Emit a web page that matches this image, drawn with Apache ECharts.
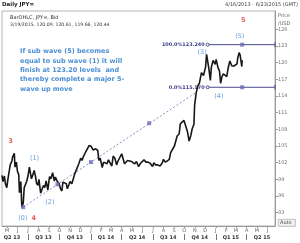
<!DOCTYPE html>
<html>
<head>
<meta charset="utf-8">
<script src="https://cdn.jsdelivr.net/npm/echarts@6/dist/echarts.min.js"></script>
<style>
  html, body { margin: 0; padding: 0; background: #fff; }
  #chart { width: 300px; height: 243px; }
</style>
</head>
<body>
<div id="chart"></div>
<script>
// daily JPY= closes (one point every few days)
var priceDates = [
  '2013-04-16','2013-04-19','2013-04-23','2013-04-26','2013-04-30','2013-05-03','2013-05-08','2013-05-10',
  '2013-05-15','2013-05-17','2013-05-22','2013-05-24','2013-05-28','2013-05-31','2013-06-04','2013-06-06',
  '2013-06-10','2013-06-13','2013-06-17','2013-06-20','2013-06-24','2013-06-27','2013-07-01','2013-07-05',
  '2013-07-08','2013-07-11','2013-07-15','2013-07-19','2013-07-23','2013-07-26','2013-07-30','2013-08-02',
  '2013-08-07','2013-08-12','2013-08-15','2013-08-19','2013-08-23','2013-08-28','2013-09-02','2013-09-06',
  '2013-09-11','2013-09-16','2013-09-19','2013-09-24','2013-09-30','2013-10-04','2013-10-08','2013-10-11',
  '2013-10-16','2013-10-21','2013-10-24','2013-10-29','2013-11-01','2013-11-06','2013-11-11','2013-11-14',
  '2013-11-19','2013-11-22','2013-11-27','2013-12-02','2013-12-06','2013-12-10','2013-12-13','2013-12-18',
  '2013-12-23','2013-12-27','2013-12-31','2014-01-02','2014-01-07','2014-01-10','2014-01-15','2014-01-21',
  '2014-01-24','2014-01-28','2014-02-03','2014-02-07','2014-02-12','2014-02-17','2014-02-21','2014-02-26',
  '2014-03-03','2014-03-07','2014-03-12','2014-03-17','2014-03-21','2014-03-26','2014-04-01','2014-04-04',
  '2014-04-09','2014-04-14','2014-04-18','2014-04-24','2014-04-30','2014-05-05','2014-05-09','2014-05-14',
  '2014-05-20','2014-05-26','2014-05-30','2014-06-05','2014-06-11','2014-06-17','2014-06-23','2014-06-30',
  '2014-07-04','2014-07-09','2014-07-15','2014-07-22','2014-07-28','2014-08-01','2014-08-06','2014-08-12',
  '2014-08-18','2014-08-22','2014-08-27','2014-09-02','2014-09-05','2014-09-10','2014-09-16','2014-09-19',
  '2014-09-24','2014-09-30','2014-10-03','2014-10-07','2014-10-10','2014-10-15','2014-10-20','2014-10-24',
  '2014-10-29','2014-10-31','2014-11-05','2014-11-10','2014-11-14','2014-11-20','2014-11-26','2014-12-02',
  '2014-12-05','2014-12-08','2014-12-12','2014-12-16','2014-12-19','2014-12-24','2014-12-30','2015-01-02',
  '2015-01-07','2015-01-12','2015-01-15','2015-01-19','2015-01-23','2015-01-28','2015-02-02','2015-02-06',
  '2015-02-11','2015-02-17','2015-02-23','2015-02-27','2015-03-04','2015-03-06','2015-03-10','2015-03-13',
  '2015-03-16','2015-03-18','2015-03-19'
];
var priceValues = [
  99.7, 98.6, 99.6, 98.2, 97.5, 98.9, 99.1, 101.6,
  102.3, 103.0, 103.7, 101.2, 102.1, 100.5, 99.8, 96.6,
  98.6, 94.0, 94.7, 97.5, 97.8, 98.6, 99.6, 101.2,
  101.4, 99.1, 99.8, 100.6, 99.5, 98.3, 97.9, 99.0,
  96.5, 96.8, 97.9, 97.5, 98.7, 97.1, 99.5, 99.1,
  100.2, 98.7, 99.4, 98.7, 98.2, 97.3, 96.9, 98.5,
  98.3, 98.2, 97.3, 98.1, 98.6, 98.2, 99.2, 99.9,
  99.9, 101.1, 101.9, 102.8, 102.4, 103.1, 103.2, 104.1,
  104.1, 105.1, 105.3, 104.9, 104.3, 104.2, 104.5, 104.2,
  102.4, 102.8, 101.1, 102.1, 102.4, 101.8, 102.5, 102.2,
  101.4, 103.2, 102.8, 101.6, 102.3, 102.2, 103.6, 103.3,
  101.8, 101.8, 102.4, 102.3, 102.2, 102.1, 101.8, 102.2,
  101.3, 101.9, 101.8, 102.5, 102.1, 102.1, 101.9, 101.3,
  102.0, 101.6, 101.6, 101.4, 101.9, 102.6, 102.1, 102.3,
  102.6, 103.8, 103.9, 105.0, 105.1, 106.8, 107.2, 109.0,
  108.8, 109.6, 109.8, 108.2, 107.6, 105.9, 106.9, 108.1,
  108.9, 112.3, 114.7, 115.9, 116.3, 118.2, 117.7, 119.2,
  121.5, 121.6, 118.8, 116.8, 119.2, 120.4, 119.7, 120.6,
  119.2, 118.4, 116.3, 117.5, 118.0, 117.7, 117.5, 119.0,
  120.3, 119.4, 119.4, 119.5, 119.8, 120.8, 121.8, 121.4,
  121.3, 119.3, 120.44
];

var rangeStart = '2013-04-16';
var rangeEnd = '2015-06-23';

var monthTicks = [
  '2013-05-01','2013-06-01','2013-07-01','2013-08-01','2013-09-01','2013-10-01','2013-11-01','2013-12-01',
  '2014-01-01','2014-02-01','2014-03-01','2014-04-01','2014-05-01','2014-06-01','2014-07-01','2014-08-01',
  '2014-09-01','2014-10-01','2014-11-01','2014-12-01','2015-01-01','2015-02-01','2015-03-01','2015-04-01',
  '2015-05-01','2015-06-01'
];
var monthLabels = ['M','J','J','A','S','O','N','D','J','F','M','A','M','J','J','A','S','O','N','D','J','F','M','A','M','J'];
var quarterStarts = ['2013-07-01','2013-10-01','2014-01-01','2014-04-01','2014-07-01','2014-10-01','2015-01-01','2015-04-01'];
var quarterMids = ['2013-05-15','2013-08-15','2013-11-15','2014-02-14','2014-05-16','2014-08-15','2014-11-15','2015-02-14','2015-05-16'];
var quarterLabels = ['Q2 13','Q3 13','Q4 13','Q1 14','Q2 14','Q3 14','Q4 14','Q1 15','Q2 15'];
var priceTicks = [93, 96, 99, 102, 105, 108, 111, 114, 117, 120, 123, 126];

// fibonacci levels
var fibPct = ['100.0%', '0.0%'];
var fibLevels = [123.24, 115.57];
var fibLabels = ['123.240', '115.570'];
var fibFrom = '2014-12-08';
var fibMark = '2015-03-19';

// dashed trend line from wave (0)
var trendDates = ['2013-06-17', '2014-11-06'];
var trendValues = [94.0, 114.7];
var trendMarkDates = ['2013-06-17', '2013-09-25', '2014-01-01', '2014-06-20'];
var trendMarkValues = [94.0, 98.1, 102.1, 109.1];

// wave labels
var waveTexts = ['(0)', '(1)', '(2)', '(3)', '(4)', '(5)'];
var waveDates = ['2013-06-16', '2013-07-20', '2013-09-03', '2014-11-22', '2015-01-10', '2015-03-12'];
var waveValues = [92.0, 102.8, 94.8, 121.9, 113.9, 124.7];
var bigTexts = ['3', '4', '5'];
var bigDates = ['2013-05-11', '2013-07-18', '2015-03-22'];
var bigValues = [105.8, 91.9, 127.7];

var lastValue = 120.44;

function T(s) { return new Date(s + 'T00:00:00Z').getTime(); }
function zip(ds, vs) { return ds.map(function (d, i) { return [T(d), vs[i]]; }); }

var monthMs = monthTicks.map(T);
var quarterMidMs = quarterMids.map(T);

var chart = echarts.init(document.getElementById('chart'));
var font = 'DejaVu Sans';

var fibSeries = fibLevels.map(function (lv, i) {
  return {
    type: 'line', silent: true, symbol: 'none', z: 4,
    lineStyle: { color: '#4b4b8e', width: 1 },
    data: [
      { value: [T(fibFrom), lv], symbol: 'circle', symbolSize: 3,
        itemStyle: { color: '#fff', borderColor: '#4b4b8e', borderWidth: 1 },
        label: { show: true, position: 'left', distance: 1,
          formatter: '{p|' + fibPct[i] + '}{v|' + fibLabels[i] + '}',
          rich: {
            p: { width: 25, fontSize: 4.9, fontWeight: 'bold', color: '#3a3a86', fontFamily: font },
            v: { fontSize: 4.9, fontWeight: 'bold', color: '#3a3a86', fontFamily: font }
          } } },
      [T(fibMark), lv],
      { value: [T(rangeEnd), lv], symbol: 'rect', symbolSize: [1, 5], itemStyle: { color: '#4b4b8e' } }
    ]
  };
});

chart.setOption({
  animation: false,
  grid: { left: 2, right: 25, top: 11, bottom: 17, show: true, borderColor: '#b4b4b4', borderWidth: 1 },
  xAxis: [{
    type: 'value', min: T(rangeStart), max: T(rangeEnd),
    axisLine: { lineStyle: { color: '#9a9a9a' } },
    axisTick: { customValues: monthMs, length: 2, lineStyle: { color: '#9a9a9a' } },
    axisLabel: {
      customValues: monthMs, fontSize: 5, color: '#666', margin: 2, fontFamily: font,
      formatter: function (v) { return monthLabels[monthMs.indexOf(v)] || ''; }
    },
    splitLine: { show: false }
  }, {
    type: 'value', min: T(rangeStart), max: T(rangeEnd), position: 'bottom', offset: 8,
    axisLine: { show: false },
    axisTick: { show: true, customValues: quarterStarts.map(T), length: 6, lineStyle: { color: '#777' } },
    axisLabel: {
      customValues: quarterMidMs, fontSize: 5, fontWeight: 'bold', color: '#333', margin: 1, fontFamily: font,
      formatter: function (v) { return quarterLabels[quarterMidMs.indexOf(v)] || ''; }
    },
    splitLine: { show: false }
  }],
  yAxis: {
    type: 'value', position: 'right', min: 90.6, max: 129.3,
    axisLine: { show: true, lineStyle: { color: '#9a9a9a' } },
    axisTick: { show: true, customValues: priceTicks, length: 3, lineStyle: { color: '#9a9a9a' } },
    axisLabel: { customValues: priceTicks, fontSize: 5, color: '#777', margin: 3, fontFamily: font },
    splitLine: { show: false }
  },
  series: [{
    name: 'JPY=', type: 'line', symbol: 'none', z: 5,
    lineStyle: { color: '#181818', width: 1.6 },
    data: zip(priceDates, priceValues),
    markLine: {
      silent: true, symbol: 'none', animation: false,
      lineStyle: { opacity: 0 },
      label: { position: 'end', distance: 0, formatter: String(lastValue), backgroundColor: '#1a1a1a',
        color: '#fff', fontSize: 5.5, fontWeight: 'bold', padding: [1, 2], fontFamily: font },
      data: [{ yAxis: lastValue }]
    }
  }, {
    type: 'line', silent: true, symbol: 'none', z: 3,
    lineStyle: { color: '#6d6db8', width: 0.8, type: [2, 2] },
    data: zip(trendDates, trendValues)
  }, {
    type: 'scatter', silent: true, symbol: 'rect', symbolSize: 4, z: 6,
    itemStyle: { color: '#6a6ab4' },
    data: zip(trendMarkDates, trendMarkValues)
  }, {
    type: 'scatter', silent: true, symbol: 'rect', symbolSize: 4, z: 6,
    itemStyle: { color: '#6a6ab4' },
    data: fibLevels.map(function (lv) { return [T(fibMark), lv]; })
  }].concat(fibSeries).concat([{
    type: 'scatter', silent: true, symbolSize: 0, z: 7,
    label: { show: true, position: 'inside', fontSize: 6.5, color: '#3b8ad4', fontFamily: font,
      formatter: function (p) { return p.name; } },
    data: waveDates.map(function (d, i) { return { name: waveTexts[i], value: [T(d), waveValues[i]] }; })
  }, {
    type: 'scatter', silent: true, symbolSize: 0, z: 7,
    label: { show: true, position: 'inside', fontSize: 6.5, fontWeight: 'bold', color: '#d8322a', fontFamily: font,
      formatter: function (p) { return p.name; } },
    data: bigDates.map(function (d, i) { return { name: bigTexts[i], value: [T(d), bigValues[i]] }; })
  }]),
  graphic: [
    { type: 'text', left: 2, top: 2, style: { text: 'Daily JPY=', font: 'bold 5.5px ' + font, fill: '#222' } },
    { type: 'text', right: 2, top: 2, style: { text: '4/16/2013 - 6/23/2015 (GMT)', font: '5px ' + font, fill: '#444' } },
    { type: 'text', left: 10, top: 15, style: { text: 'BarOHLC, JPY=, Bid', font: '5px ' + font, fill: '#333' } },
    { type: 'text', left: 10, top: 22, style: { text: '3/19/2015, 120.09, 120.61, 119.66, 120.44', font: '4.6px ' + font, fill: '#333' } },
    { type: 'text', left: 20, top: 47, style: {
        text: 'If sub wave (5) becomes\nequal to sub wave (1) it will\nfinish at 123.20 levels  and\nthereby complete a major 5-\nwave up move',
        font: 'bold 6.5px ' + font, fill: '#4a8fd6', lineHeight: 9.3 } },
    { type: 'text', left: 278, top: 12, style: { text: 'Price\n/USD', font: '5px ' + font, fill: '#666', lineHeight: 7.5 } },
    { type: 'rect', left: 278, top: 219, shape: { width: 17, height: 7 }, style: { fill: '#f2f2f2', stroke: '#999', lineWidth: 0.6 } },
    { type: 'text', left: 280, top: 220, style: { text: 'Auto', font: '5px ' + font, fill: '#444' } }
  ]
});
</script>
</body>
</html>
